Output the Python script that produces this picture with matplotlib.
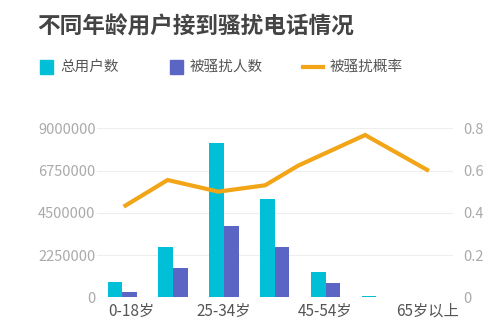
import matplotlib
matplotlib.use("Agg")
import matplotlib.pyplot as plt
import matplotlib.transforms as mtransforms
import numpy as np
from matplotlib.lines import Line2D

plt.rcParams['font.family'] = ['Noto Sans CJK SC', 'DejaVu Sans']

categories = ['0-18岁', '19-24岁', '25-34岁', '35-44岁', '45-54岁', '55-64岁', '65岁以上']
shown_labels = ['0-18岁', '', '25-34岁', '', '45-54岁', '', '65岁以上']
total_users = [830000, 2700000, 8200000, 5250000, 1330000, 70000, 5000]
harassed = [300000, 1580000, 3810000, 2680000, 745000, 30000, 2000]
rate_pos = [0.06, 0.89, 1.89, 2.81, 3.46, 4.78, 6.0]
rate = [0.434, 0.555, 0.50, 0.53, 0.623, 0.768, 0.603]
left_ticks = [0, 2250000, 4500000, 6750000, 9000000]
right_ticks = [0, 0.2, 0.4, 0.6, 0.8]

c_cyan = '#00bfd6'
c_purple = '#5b66c4'
c_orange = '#f2a516'

fig = plt.figure(figsize=(4.89, 3.34), dpi=100)
ax = fig.add_axes([97 / 489, 0.11, (452.5 - 97) / 489, 0.506])
x = np.arange(len(categories))
w = 0.29
ax.bar(x - w / 2, total_users, w, color=c_cyan, zorder=2)
ax.bar(x + w / 2, harassed, w, color=c_purple, zorder=2)
ax.set_xlim(-0.5, 6.5)
ax.set_ylim(0, 9000000)
ax.set_yticks(left_ticks)
ax.set_yticklabels([str(t) for t in left_ticks])
ax.set_xticks(x)
ax.set_xticklabels(shown_labels)
ax.grid(axis='y', color='#eeeeee', linewidth=0.8, zorder=0)
ax.set_axisbelow(True)
for s in ax.spines.values():
    s.set_visible(False)
ax.tick_params(axis='y', length=0, labelsize=10.5, labelcolor='#aaaaaa', pad=1)
ax.tick_params(axis='x', length=0, labelsize=11, labelcolor='#555555', pad=4)
first = ax.xaxis.get_major_ticks()[0].label1
first.set_transform(first.get_transform() +
                    mtransforms.ScaledTranslation(9 / 100, 0, fig.dpi_scale_trans))

ax2 = ax.twinx()
ax2.plot(rate_pos, rate, color=c_orange, linewidth=3, solid_joinstyle='miter', zorder=3)
ax2.set_ylim(0, 0.8)
ax2.set_yticks(right_ticks)
ax2.set_yticklabels(['0', '0.2', '0.4', '0.6', '0.8'])
for s in ax2.spines.values():
    s.set_visible(False)
ax2.tick_params(axis='y', length=0, labelsize=10.5, labelcolor='#aaaaaa', pad=8)

fig.text(37 / 489, 1 - 27 / 334, '不同年龄用户接到骚扰电话情况', fontsize=16.3,
         fontweight='bold', color='#444444', va='center', ha='left')

ys = 1 - 67 / 334
fig.patches.append(plt.Rectangle((40 / 489, ys - 6.5 / 334), 13 / 489, 13 / 334,
                                 transform=fig.transFigure, color=c_cyan, figure=fig))
fig.text(60 / 489, ys, '总用户数', fontsize=10.5, color='#555555', va='center')
fig.patches.append(plt.Rectangle((170 / 489, ys - 6.5 / 334), 13 / 489, 13 / 334,
                                 transform=fig.transFigure, color=c_purple, figure=fig))
fig.text(190 / 489, ys, '被骚扰人数', fontsize=10.5, color='#555555', va='center')
fig.lines.append(Line2D([303 / 489, 323 / 489], [ys, ys], transform=fig.transFigure,
                        color=c_orange, linewidth=3, figure=fig))
fig.text(330 / 489, ys, '被骚扰概率', fontsize=10.5, color='#555555', va='center')

fig.savefig('out.png', dpi=100)
